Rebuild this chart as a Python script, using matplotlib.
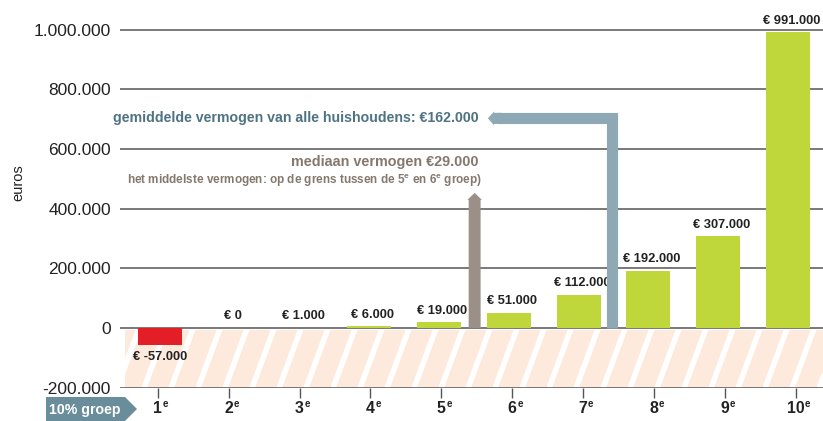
import numpy as np
import matplotlib.pyplot as plt
from matplotlib import font_manager
from matplotlib.patches import Rectangle, Polygon

# --- data -------------------------------------------------------------
groups = ['1', '2', '3', '4', '5', '6', '7', '8', '9', '10']
wealth = [-57000, 0, 1000, 6000, 19000, 51000, 112000, 192000, 307000, 991000]
yticks = [-200000, 0, 200000, 400000, 600000, 800000, 1000000]
mean_text = 'gemiddelde vermogen van alle huishoudens: €162.000'
median_text = 'mediaan vermogen €29.000'
median_note = r'het middelste vermogen: op de grens tussen de 5$^{\mathrm{e}}$ en 6$^{\mathrm{e}}$ groep)'

# --- fonts --------------------------------------------------------------
names = {f.name for f in font_manager.fontManager.ttflist}
narrow = 'Liberation Sans Narrow' if 'Liberation Sans Narrow' in names else 'Liberation Sans'
scale = 1.0 if narrow == 'Liberation Sans Narrow' else 0.88
plt.rcParams['font.family'] = ['Liberation Sans', 'DejaVu Sans']
plt.rcParams['mathtext.fontset'] = 'custom'
plt.rcParams['mathtext.rm'] = narrow + ':bold'
plt.rcParams['mathtext.it'] = narrow + ':bold'
plt.rcParams['mathtext.bf'] = narrow + ':bold'

green = '#bfd73b'
red = '#e41e26'
blue = '#8fa8b5'
grey = '#9a9087'

fig = plt.figure(figsize=(8.23, 4.21), dpi=100)
ax = fig.add_axes([120 / 823, 33.4 / 421, 703 / 823, 387.6 / 421])
ax.set_xlim(-0.573, 9.503)
ax.set_ylim(-200000, 1100000)

x = np.arange(len(groups))
colors = [red if v < 0 else green for v in wealth]
ax.bar(x, wealth, width=0.63, color=colors, zorder=2)

# hatched negative band
band = Rectangle((-0.50, -200000), 10.1, 194000, facecolor='#fdeadc',
                 edgecolor='none', zorder=0.2)
ax.add_patch(band)
for s in np.arange(-1.0, 10.0, 0.387):
    ax.plot([s, s + 0.315], [-200000, 0], color='white', lw=4.0,
            zorder=0.3, clip_path=band, solid_capstyle='butt')

# grid
ax.set_yticks(yticks)
ax.set_yticklabels([f'{v:,}'.replace(',', '.') for v in yticks])
ax.grid(axis='y', color='#555555', lw=1.1)
ax.set_axisbelow(True)
ax.tick_params(axis='y', length=0, pad=6.5, labelsize=12.5, labelcolor='#222222')

tick_size = 13 * scale
tick_pos = np.linspace(-0.03, 9.11, len(groups))
ax.set_xticks(tick_pos)
ax.set_xticklabels(groups, fontweight='bold', family=narrow)
ax.tick_params(axis='x', length=7, width=1, color='#555555', pad=3,
               labelsize=tick_size, labelcolor='#222222')
for sp in ax.spines.values():
    sp.set_visible(False)

# small superscript "e" after each group number
for tp, g in zip(tick_pos, groups):
    half = 0.556 * tick_size * len(g) / 2
    ax.annotate('e', xy=(tp, 0), xycoords=ax.get_xaxis_transform(),
                xytext=(half + 0.4, -8.0), textcoords='offset points',
                ha='left', va='top', fontsize=7, fontweight='bold',
                family=narrow, color='#222222', annotation_clip=False)

# value labels
for xi, v in zip(x, wealth):
    txt = '€ ' + f'{v:,}'.replace(',', '.')
    if v < 0:
        ax.annotate(txt, (xi, v), xytext=(0, -4), textcoords='offset points',
                    ha='center', va='top', fontsize=10.5 * scale,
                    fontweight='bold', family=narrow, color='#222222')
    else:
        ax.annotate(txt, (xi + 0.05, v), xytext=(0, 4), textcoords='offset points',
                    ha='center', va='bottom', fontsize=10.5 * scale,
                    fontweight='bold', family=narrow, color='#222222')

# median arrow
ax.annotate('', xy=(4.51, 453000), xytext=(4.51, 0),
            arrowprops=dict(arrowstyle='simple,head_length=0.5,head_width=1.05,tail_width=0.86',
                            mutation_scale=10, color=grey, shrinkA=0, shrinkB=0, lw=0),
            zorder=3)

# mean arrow (vertical + horizontal)
ax.plot([6.48, 6.48, 4.85], [0, 703000, 703000], color=blue, lw=8.0,
        solid_joinstyle='miter', solid_capstyle='butt', zorder=3)
ax.annotate('', xy=(4.70, 703000), xytext=(4.90, 703000),
            arrowprops=dict(arrowstyle='simple,head_length=0.45,head_width=1.0,tail_width=0.8',
                            mutation_scale=10, color=blue, shrinkA=0, shrinkB=0, lw=0),
            zorder=3)

ax.text(4.56, 705000, mean_text, ha='right', va='center', fontsize=10.15,
        fontweight='bold', family=narrow, color='#4f7383')
ax.text(4.56, 557000, median_text, ha='right', va='center', fontsize=10.4,
        fontweight='bold', family=narrow, color='#85796e')
ax.text(4.61, 493000, median_note, ha='right', va='center', fontsize=8.5,
        fontweight='bold', family=narrow, color='#85796e')

fig.text(18 / 823, 1 - 183 / 421, 'euros', rotation=90, ha='center', va='center',
         fontsize=10.5, color='#222222')

# "10% groep" tag
px = np.array([[46, 397], [125, 397], [137, 409], [125, 421], [46, 421]], dtype=float)
px[:, 0] /= 823
px[:, 1] = 1 - px[:, 1] / 421
fig.patches.append(Polygon(px, closed=True, transform=fig.transFigure,
                           facecolor='#6a8d9b', edgecolor='none'))
fig.text(85 / 823, 1 - 410 / 421, '10% groep', ha='center', va='center',
         fontsize=10.2, fontweight='bold', family=narrow, color='white')

fig.savefig('out.png', dpi=100)
